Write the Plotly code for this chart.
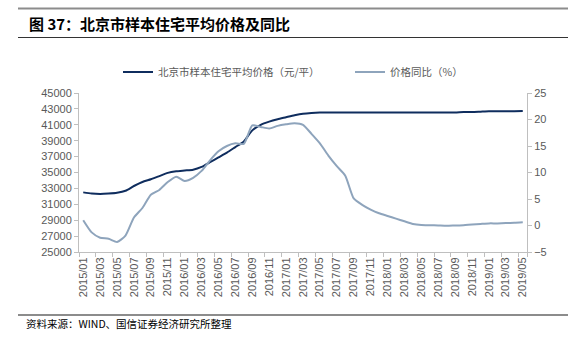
import plotly.graph_objects as go

months = [f"{y}/{m:02d}" for y in range(2015, 2020) for m in range(1, 13)][:53]

price = [32500, 32350, 32300, 32350, 32450, 32700, 33300, 33800, 34150, 34550,
         34950, 35150, 35250, 35350, 35700, 36300, 36900, 37500, 38200, 38900,
         40300, 41000, 41400, 41700, 41950, 42200, 42400, 42500, 42550, 42550,
         42550, 42550, 42550, 42550, 42550, 42550, 42550, 42550, 42550, 42550,
         42550, 42550, 42550, 42550, 42550, 42600, 42600, 42650, 42700, 42700,
         42700, 42720, 42750]

yoy = [1.0, -1.3, -2.3, -2.5, -3.1, -1.9, 1.5, 3.3, 5.8, 6.7,
       8.2, 9.2, 8.4, 9.0, 10.3, 12.3, 14.0, 15.0, 15.5, 15.4,
       18.9, 18.6, 18.3, 18.8, 19.1, 19.3, 19.0, 17.3, 15.5, 13.2,
       11.2, 9.4, 5.1, 3.9, 3.0, 2.3, 1.8, 1.3, 0.8, 0.3,
       0.1, 0.05, 0.0, -0.05, 0.0, 0.05, 0.2, 0.3, 0.4, 0.4,
       0.45, 0.5, 0.6]

name_price = "北京市样本住宅平均价格（元/平）"
name_yoy = "价格同比（%）"
tick_labels = months[::2]

DARK = "#0f2d5e"
LIGHT = "#8ea4bc"
AX = "#bfbfbf"
TXT = "#595959"
CJK = "Noto Sans CJK SC"
NUMF = "Liberation Sans, Arial"

fig = go.Figure()
fig.add_trace(go.Scatter(x=months, y=price, name=name_price, mode="lines", legend="legend",
                         line=dict(color=DARK, width=2, shape="spline", smoothing=0.6)))
fig.add_trace(go.Scatter(x=months, y=yoy, name=name_yoy, mode="lines", yaxis="y2", legend="legend2",
                         line=dict(color=LIGHT, width=2, shape="spline", smoothing=0.6)))

leg_common = dict(orientation="h", yanchor="middle", xanchor="left",
                  font=dict(family=CJK, size=10.5, color=TXT), itemwidth=30,
                  bgcolor="rgba(0,0,0,0)")

fig.update_layout(
    width=578, height=342,
    margin=dict(l=79, r=51, t=93, b=90),
    paper_bgcolor="white", plot_bgcolor="white",
    showlegend=True,
    legend=dict(x=(118-79)/448, y=1+(93-72)/159, **leg_common),
    legend2=dict(x=(350-79)/448, y=1+(93-72)/159, **leg_common),
    xaxis=dict(type="category", tickmode="array", tickvals=tick_labels, ticktext=tick_labels,
               tickangle=-90, showgrid=False, showline=True, linecolor=AX, linewidth=1,
               ticks="outside", ticklen=4, tickcolor=AX, tickson="boundaries",
               tickfont=dict(family=NUMF, size=11, color=TXT),
               range=[-0.5, 52.5], zeroline=False),
    yaxis=dict(range=[25000, 45000], dtick=2000, tick0=25000, tickformat="d", showgrid=False,
               showline=True, linecolor=AX, linewidth=1, ticks="outside", ticklen=4, tickcolor=AX,
               tickfont=dict(family=NUMF, size=11, color=TXT), zeroline=False),
    yaxis2=dict(range=[-5, 25], dtick=5, tick0=-5, overlaying="y", side="right", showgrid=False,
                showline=True, linecolor=AX, linewidth=1, ticks="outside", ticklen=4,
                tickcolor=AX, tickfont=dict(family=NUMF, size=11, color=TXT),
                zeroline=False),
)

# decorative frame lines (header / footer)
fig.add_shape(type="line", xref="paper", yref="paper", x0=(18-79)/448, x1=(568-79)/448,
              y0=1+(93-8.5)/159, y1=1+(93-8.5)/159, line=dict(color="#8c8c8c", width=2))
fig.add_shape(type="line", xref="paper", yref="paper", x0=(18-79)/448, x1=(568-79)/448,
              y0=1+(93-37.5)/159, y1=1+(93-37.5)/159, line=dict(color="#333333", width=1))
fig.add_shape(type="line", xref="paper", yref="paper", x0=(18-79)/448, x1=(568-79)/448,
              y0=-(315-252)/159, y1=-(315-252)/159, line=dict(color="#8c8c8c", width=2))

fig.add_annotation(text="<b>图 37：北京市样本住宅平均价格及同比</b>", xref="paper", yref="paper",
                   x=(27-79)/448, y=1+(93-23)/159, xanchor="left", yanchor="middle",
                   showarrow=False, font=dict(family=CJK, size=15, color="#000000"))
fig.add_annotation(text="资料来源：WIND、国信证券经济研究所整理", xref="paper", yref="paper",
                   x=(24-79)/448, y=-(323-252)/159, xanchor="left", yanchor="middle",
                   showarrow=False, font=dict(family=CJK, size=10.5, color="#000000"))

fig.write_html("out.html")
